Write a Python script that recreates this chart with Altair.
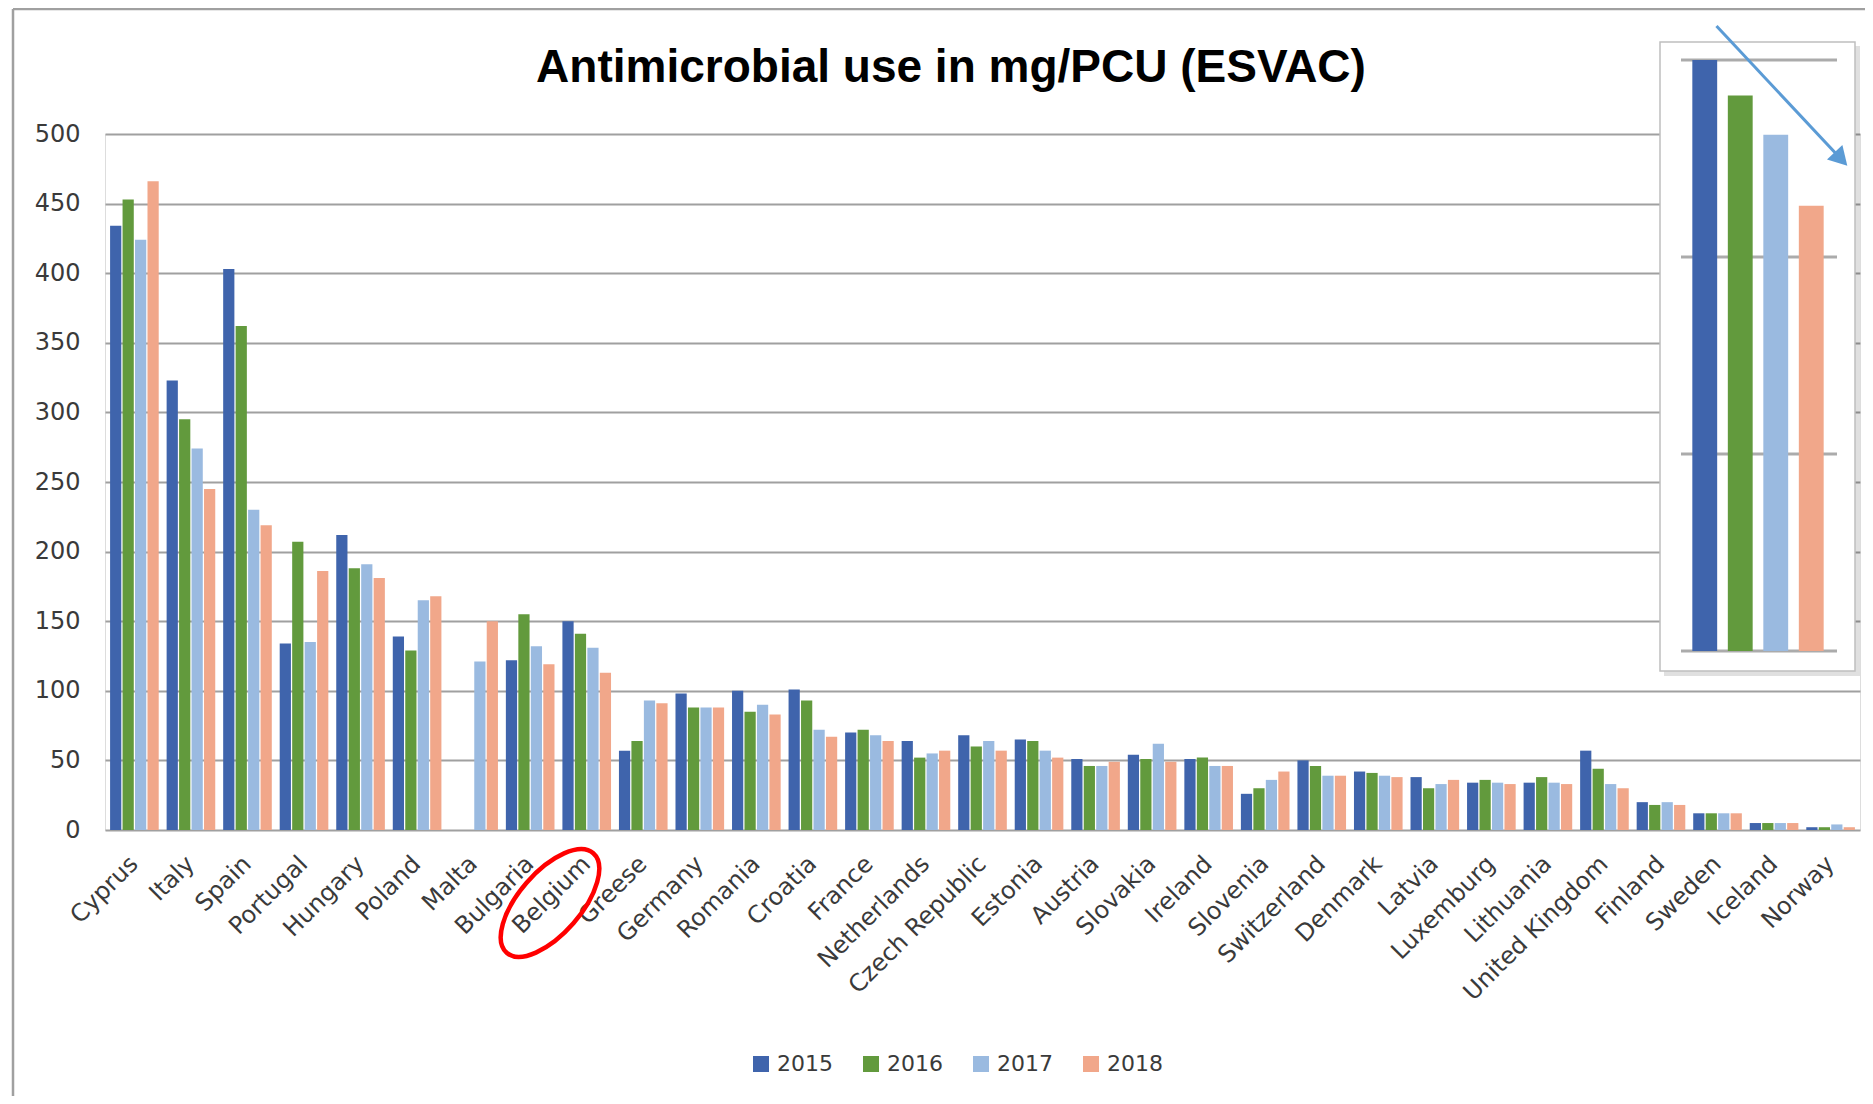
import altair as alt
import pandas as pd

countries = ["Cyprus", "Italy", "Spain", "Portugal", "Hungary", "Poland", "Malta",
             "Bulgaria", "Belgium", "Greese", "Germany", "Romania", "Croatia", "France",
             "Netherlands", "Czech Republic", "Estonia", "Austria", "Slovakia", "Ireland",
             "Slovenia", "Switzerland", "Denmark", "Latvia", "Luxemburg", "Lithuania",
             "United Kingdom", "Finland", "Sweden", "Iceland", "Norway"]
years = ["2015", "2016", "2017", "2018"]
v2015 = [434, 323, 403, 134, 212, 139, None, 122, 150, 57, 98, 100, 101, 70, 64, 68, 65,
         51, 54, 51, 26, 50, 42, 38, 34, 34, 57, 20, 12, 5, 2]
v2016 = [453, 295, 362, 207, 188, 129, None, 155, 141, 64, 88, 85, 93, 72, 52, 60, 64,
         46, 51, 52, 30, 46, 41, 30, 36, 38, 44, 18, 12, 5, 2]
v2017 = [424, 274, 230, 135, 191, 165, 121, 132, 131, 93, 88, 90, 72, 68, 55, 64, 57,
         46, 62, 46, 36, 39, 39, 33, 34, 34, 33, 20, 12, 5, 4]
v2018 = [466, 245, 219, 186, 181, 168, 150, 119, 113, 91, 88, 83, 67, 64, 57, 57, 52,
         49, 49, 46, 42, 39, 38, 36, 33, 33, 30, 18, 12, 5, 2]
colors = ["#3F64AC", "#629A3D", "#9ABAE0", "#F1A78A"]
y_ticks = [0, 50, 100, 150, 200, 250, 300, 350, 400, 450, 500]
inset_country = "Belgium"
inset_ticks = [0, 50, 100, 150]
title_text = "Antimicrobial use in mg/PCU (ESVAC)"

rows = []
for yr, vals in zip(years, [v2015, v2016, v2017, v2018]):
    for c, v in zip(countries, vals):
        if v is not None:
            rows.append({"country": c, "year": yr, "value": v})
df = pd.DataFrame(rows)
grid_df = pd.DataFrame({"g": inset_ticks})
one = pd.DataFrame({"a": [1]})

W, H = 1755, 696
FONT = "DejaVu Sans"
TXT = "#3a3a3a"

color = alt.Color(
    "year:N",
    scale=alt.Scale(domain=years, range=colors),
    legend=alt.Legend(title=None, orient="none", direction="horizontal",
                      legendX=645, legendY=919, symbolType="square", symbolSize=256,
                      symbolStrokeWidth=0, labelFont=FONT, labelFontSize=22,
                      labelColor=TXT, labelOffset=5, columnPadding=27, padding=0),
)

main = alt.Chart(df).mark_bar().encode(
    x=alt.X("country:N", sort=countries,
            scale=alt.Scale(paddingInner=0.14, paddingOuter=0.09),
            axis=alt.Axis(title=None, labelAngle=-45, labelAlign="right",
                          labelBaseline="middle", labelPadding=30, labelFont=FONT,
                          labelFontSize=24, labelColor=TXT, ticks=False, tickSize=0,
                          domain=False, grid=False, labelLimit=400)),
    xOffset=alt.XOffset("year:N", sort=years, scale=alt.Scale(paddingInner=0.1)),
    y=alt.Y("value:Q", scale=alt.Scale(domain=[0, 500], nice=False),
            axis=alt.Axis(title=None, values=y_ticks, labelFont=FONT, labelFontSize=24,
                          labelColor=TXT, labelPadding=25, ticks=False, tickSize=0,
                          domain=False, gridColor="#A0A0A0", gridWidth=2)),
    color=color,
)

# inset (magnified Belgium bars)
inset_y_scale = alt.Scale(domain=[0, 150], range=[517, -74], nice=False)
inset_shadow = alt.Chart(one).mark_rect(fill="#000000", opacity=0.12).encode(
    x=alt.value(1559), x2=alt.value(1755), y=alt.value(-88), y2=alt.value(542))
inset_box = alt.Chart(one).mark_rect(fill="white", stroke="#BFBFBF", strokeWidth=1.5).encode(
    x=alt.value(1555), x2=alt.value(1750), y=alt.value(-92), y2=alt.value(537))
inset_grid = alt.Chart(grid_df).mark_rule(color="#ABABAB", strokeWidth=3).encode(
    y=alt.Y("g:Q", scale=inset_y_scale, axis=None),
    x=alt.value(1576), x2=alt.value(1732))
inset_bars = alt.Chart(df).transform_filter(
    alt.datum.country == inset_country
).mark_bar().encode(
    x=alt.X("year:N", sort=years,
            scale=alt.Scale(range=[1582, 1724], paddingInner=0.3, paddingOuter=0.15),
            axis=None),
    y=alt.Y("value:Q", scale=inset_y_scale, axis=None),
    color=color,
)
inset = alt.layer(inset_shadow, inset_box, inset_grid, inset_bars)

frame_left = alt.Chart(one).mark_rule(color="#A0A0A0", strokeWidth=2.5).encode(
    x=alt.value(-92), y=alt.value(-125), y2=alt.value(962))
frame_top = alt.Chart(one).mark_rule(color="#A0A0A0", strokeWidth=2.5).encode(
    y=alt.value(-125), x=alt.value(-92), x2=alt.value(1760))

arrow_line = alt.Chart(one).mark_rule(color="#5B9BD5", strokeWidth=3).encode(
    x=alt.value(1611.5), y=alt.value(-108), x2=alt.value(1736), y2=alt.value(25))
arrow_head = alt.Chart(one).mark_point(shape="triangle-up", filled=True, color="#5B9BD5",
                                       size=450, angle=136.6, opacity=1).encode(
    x=alt.value(1736), y=alt.value(25))

ellipse = alt.Chart(one).mark_point(
    shape="M0,-1A0.47,1,0,1,1,0,1A0.47,1,0,1,1,0,-1Z", filled=False, color="#FF0000",
    strokeWidth=4.5, size=17424, angle=41, opacity=1).encode(
    x=alt.value(445), y=alt.value(769))

title = alt.Chart(one).mark_text(text=title_text, font="Liberation Sans", fontSize=46,
                                 fontWeight="bold", color="black", align="center",
                                 baseline="alphabetic").encode(
    x=alt.value(846), y=alt.value(-52))

chart = alt.layer(
    frame_left, frame_top, main, inset, arrow_line, arrow_head, ellipse, title
).resolve_scale(
    x="independent", y="independent"
).properties(
    width=W, height=H,
    autosize=alt.AutoSizeParams(type="none"),
    padding={"left": 97, "top": 126, "right": 5, "bottom": 266},
).configure_view(stroke=None).configure(background="white")

chart.save("out.html", embed_options={"renderer": "svg", "actions": False})
